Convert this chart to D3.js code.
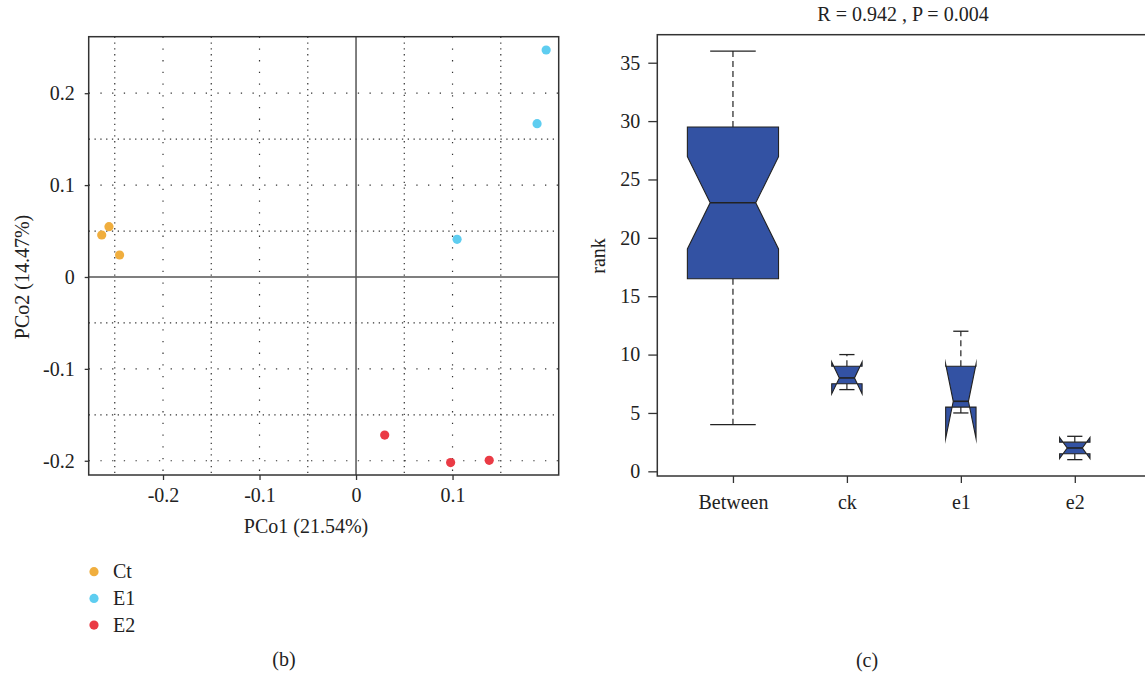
<!DOCTYPE html>
<html>
<head>
<meta charset="utf-8">
<script src="https://cdn.jsdelivr.net/npm/d3@7"></script>
<style>
  body { margin: 0; background: #fff; }
  svg text { font-family: "Liberation Serif", "DejaVu Serif", serif; fill: #222; }
</style>
</head>
<body>
<div id="chart"></div>
<script>
// PCoA points (panel b)
var sampleGroup = ['Ct', 'Ct', 'Ct', 'E1', 'E1', 'E1', 'E2', 'E2', 'E2'];
var pco1 = [-0.2635, -0.256, -0.245, 0.197, 0.1876, 0.1047, 0.0297, 0.098, 0.138];
var pco2 = [0.0457, 0.0547, 0.0239, 0.247, 0.1668, 0.041, -0.172, -0.202, -0.1995];
var legendGroups = ['Ct', 'E1', 'E2'];
var pcoTicks = [-0.2, -0.1, 0, 0.1, 0.2];
var xGridTicks = [-0.25, -0.2, -0.15, -0.1, -0.05, 0.05, 0.1, 0.15];
var yGridTicks = [-0.2, -0.15, -0.1, -0.05, 0.05, 0.1, 0.15, 0.2];

// ANOSIM rank boxes (panel c)
var groups = ['Between', 'ck', 'e1', 'e2'];
var groupN = [27, 3, 3, 3];
var whiskerLo = [4, 7, 5, 1];
var hingeLo = [16.5, 7.5, 5.5, 1.5];
var medians = [23, 8, 6, 2];
var hingeHi = [29.5, 9, 9, 2.5];
var whiskerHi = [36, 10, 12, 3];
var notchLo = [19.05, 6.63, 2.81, 1.09];
var notchHi = [26.95, 9.37, 9.19, 2.91];
var rankTicks = [0, 5, 10, 15, 20, 25, 30, 35];

var groupColor = {Ct: '#f0ae3e', E1: '#5ecdf0', E2: '#ea3b45'};
var boxFill = '#3352a3';
var fontSize = '20px';

var svg = d3.select('#chart').append('svg')
  .attr('width', 1145)
  .attr('height', 676);

var fmt = function(d) { return d === 0 ? '0' : d.toFixed(1); };

// ---------- panel b ----------
var L = {left: 88.7, right: 558.7, top: 36.7, bottom: 475};

var xb = d3.scaleLinear().domain([-0.277, 0.210]).range([L.left, L.right]);
var yb = d3.scaleLinear().domain([-0.2155, 0.2615]).range([L.bottom, L.top]);

var pb = svg.append('g');

var isMajor = function(d) { return Math.abs(Math.round(d * 10) - d * 10) < 1e-6; };
var gridDash = function(d) { return isMajor(d) ? '1.3,10.4' : '1.3,4.5'; };

pb.selectAll('line.vgrid').data(xGridTicks)
  .enter().append('line')
    .attr('class', 'vgrid')
    .attr('x1', function(d) { return xb(d); })
    .attr('x2', function(d) { return xb(d); })
    .attr('y1', L.top)
    .attr('y2', L.bottom)
    .attr('stroke', '#333')
    .attr('stroke-width', 1.2)
    .attr('stroke-dasharray', gridDash);

pb.selectAll('line.hgrid').data(yGridTicks)
  .enter().append('line')
    .attr('class', 'hgrid')
    .attr('y1', function(d) { return yb(d); })
    .attr('y2', function(d) { return yb(d); })
    .attr('x1', L.left)
    .attr('x2', L.right)
    .attr('stroke', '#333')
    .attr('stroke-width', 1.2)
    .attr('stroke-dasharray', gridDash);

// zero lines
pb.append('line')
  .attr('x1', xb(0)).attr('x2', xb(0))
  .attr('y1', L.top).attr('y2', L.bottom)
  .attr('stroke', '#555').attr('stroke-width', 1.5);
pb.append('line')
  .attr('x1', L.left).attr('x2', L.right)
  .attr('y1', yb(0)).attr('y2', yb(0))
  .attr('stroke', '#555').attr('stroke-width', 1.5);

pb.append('rect')
  .attr('x', L.left).attr('y', L.top)
  .attr('width', L.right - L.left).attr('height', L.bottom - L.top)
  .attr('fill', 'none').attr('stroke', '#333').attr('stroke-width', 1.5);

var xAxisB = pb.append('g')
  .attr('transform', 'translate(0,' + L.bottom + ')')
  .call(d3.axisBottom(xb).tickValues(pcoTicks.filter(function(d) { return d < 0.2; }))
    .tickFormat(fmt).tickSize(5).tickPadding(8).tickSizeOuter(0));
var yAxisB = pb.append('g')
  .attr('transform', 'translate(' + L.left + ',0)')
  .call(d3.axisLeft(yb).tickValues(pcoTicks).tickFormat(fmt).tickSize(4).tickPadding(10).tickSizeOuter(0));

[xAxisB, yAxisB].forEach(function(a) {
  a.select('.domain').remove();
  a.selectAll('line').attr('stroke', '#333').attr('stroke-width', 1.3);
  a.selectAll('text').style('font-size', fontSize).attr('fill', '#222');
});

pb.selectAll('circle.pt').data(pco1)
  .enter().append('circle')
    .attr('class', 'pt')
    .attr('cx', function(d) { return xb(d); })
    .attr('cy', function(d, i) { return yb(pco2[i]); })
    .attr('r', 4.6)
    .attr('fill', function(d, i) { return groupColor[sampleGroup[i]]; });

pb.append('text')
  .attr('x', 306).attr('y', 533)
  .attr('text-anchor', 'middle')
  .style('font-size', fontSize)
  .text('PCo1 (21.54%)');

pb.append('text')
  .attr('transform', 'translate(29,277) rotate(-90)')
  .attr('text-anchor', 'middle')
  .style('font-size', fontSize)
  .text('PCo2 (14.47%)');

var leg = pb.selectAll('g.leg').data(legendGroups)
  .enter().append('g')
    .attr('class', 'leg')
    .attr('transform', function(d, i) { return 'translate(94,' + (571.7 + i * 26.7) + ')'; });
leg.append('circle').attr('r', 4.6).attr('fill', function(d) { return groupColor[d]; });
leg.append('text').attr('x', 19).attr('y', 6.5).style('font-size', fontSize).text(function(d) { return d; });

pb.append('text')
  .attr('x', 284).attr('y', 666)
  .attr('text-anchor', 'middle')
  .style('font-size', fontSize)
  .text('(b)');

// ---------- panel c ----------
var R = {left: 657.3, right: 1150, top: 34.7, bottom: 476};

var xc = d3.scaleLinear().domain([0.336, 4.66]).range([R.left, R.right]);
var yc = d3.scaleLinear().domain([-0.4, 37.4]).range([R.bottom, R.top]);
var maxN = d3.max(groupN);

var pc = svg.append('g');

pc.append('rect')
  .attr('x', R.left).attr('y', R.top)
  .attr('width', R.right - R.left).attr('height', R.bottom - R.top)
  .attr('fill', 'none').attr('stroke', '#333').attr('stroke-width', 1.5);

var yAxisC = pc.append('g')
  .attr('transform', 'translate(' + R.left + ',0)')
  .call(d3.axisLeft(yc).tickValues(rankTicks).tickSize(9).tickPadding(8).tickSizeOuter(0));
var xAxisC = pc.append('g')
  .attr('transform', 'translate(0,' + R.bottom + ')')
  .call(d3.axisBottom(xc).tickValues(d3.range(1, groups.length + 1))
    .tickFormat(function(d) { return groups[d - 1]; })
    .tickSize(7).tickPadding(12).tickSizeOuter(0));

[xAxisC, yAxisC].forEach(function(a) {
  a.select('.domain').remove();
  a.selectAll('line').attr('stroke', '#333').attr('stroke-width', 1.3);
  a.selectAll('text').style('font-size', fontSize).attr('fill', '#222');
});

var boxes = pc.selectAll('g.box').data(groups)
  .enter().append('g')
    .attr('class', 'box');

boxes.each(function(name, i) {
  var g = d3.select(this);
  var cx = xc(i + 1);
  var w = (xc(1.4) - xc(1)) * Math.sqrt(groupN[i] / maxN);
  // whiskers (dashed) and staples
  [[hingeHi[i], whiskerHi[i]], [hingeLo[i], whiskerLo[i]]].forEach(function(seg) {
    g.append('line')
      .attr('x1', cx).attr('x2', cx)
      .attr('y1', yc(seg[0])).attr('y2', yc(seg[1]))
      .attr('stroke', '#222').attr('stroke-width', 1.2)
      .attr('stroke-dasharray', '6,4');
    g.append('line')
      .attr('x1', cx - w / 2).attr('x2', cx + w / 2)
      .attr('y1', yc(seg[1])).attr('y2', yc(seg[1]))
      .attr('stroke', '#222').attr('stroke-width', 1.3);
  });
  // notched box, R bxp style
  var pts = [
    [cx - w, yc(hingeLo[i])], [cx + w, yc(hingeLo[i])], [cx + w, yc(notchLo[i])],
    [cx + w / 2, yc(medians[i])], [cx + w, yc(notchHi[i])], [cx + w, yc(hingeHi[i])],
    [cx - w, yc(hingeHi[i])], [cx - w, yc(notchHi[i])], [cx - w / 2, yc(medians[i])],
    [cx - w, yc(notchLo[i])]
  ];
  g.append('polygon')
    .attr('points', pts.map(function(p) { return p.join(','); }).join(' '))
    .attr('fill', boxFill)
    .attr('stroke', '#222')
    .attr('stroke-width', 1.1)
    .attr('stroke-miterlimit', 20);
  g.append('line')
    .attr('x1', cx - w / 2).attr('x2', cx + w / 2)
    .attr('y1', yc(medians[i])).attr('y2', yc(medians[i]))
    .attr('stroke', '#222').attr('stroke-width', 1.6);
});

pc.append('text')
  .attr('transform', 'translate(605,256) rotate(-90)')
  .attr('text-anchor', 'middle')
  .style('font-size', fontSize)
  .text('rank');

pc.append('text')
  .attr('x', 903).attr('y', 20.5)
  .attr('text-anchor', 'middle')
  .style('font-size', fontSize)
  .text('R = 0.942 , P = 0.004');

pc.append('text')
  .attr('x', 867).attr('y', 667)
  .attr('text-anchor', 'middle')
  .style('font-size', fontSize)
  .text('(c)');
</script>
</body>
</html>
